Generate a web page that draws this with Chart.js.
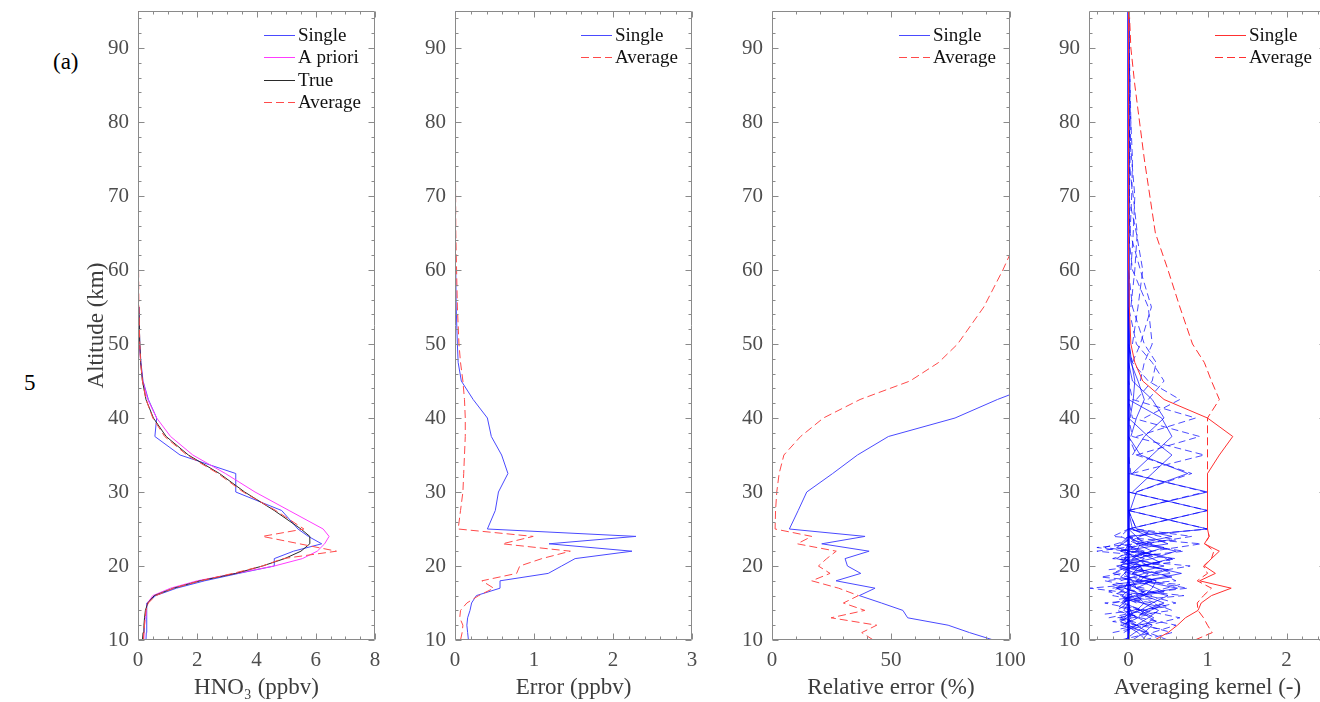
<!DOCTYPE html>
<html>
<head>
<meta charset="utf-8">
<title>HNO3 retrieval profiles</title>
<script src="https://cdn.jsdelivr.net/npm/chart.js@4.4.0/dist/chart.umd.min.js"></script>
<style>
  html, body { margin: 0; padding: 0; background: #fff; overflow: hidden; }
  body { width: 1320px; height: 702px; position: relative; font-family: 'Liberation Serif', 'Times New Roman', serif; }
  canvas { position: absolute; top: 0; }
  .note { position: absolute; font-size: 23px; color: #000; line-height: 1; }
</style>
</head>
<body>
<div class="note" style="left:53px;top:50px">(a)</div>
<div class="note" style="left:24px;top:371px">5</div>
<canvas id="p1" width="395" height="702" style="left:0px;width:395px;height:702px"></canvas>
<canvas id="p2" width="317" height="702" style="left:395px;width:317px;height:702px"></canvas>
<canvas id="p3" width="318" height="702" style="left:712px;width:318px;height:702px"></canvas>
<canvas id="p4" width="317" height="702" style="left:1029px;width:317px;height:702px"></canvas>
<script>
// retrieval altitude grid (km)
const altitude = [10, 11, 12, 13, 14, 15, 16, 17, 18, 19, 20, 21, 22, 23, 24, 25, 27.5, 30, 32.5, 35, 37.5, 40, 42.5, 45, 47.5, 50, 55, 60, 65, 70, 75, 80, 85, 90, 95];
const altTicks = [10, 20, 30, 40, 50, 60, 70, 80, 90];

// HNO3 volume mixing ratio (ppbv)
const hno3Single  = [0.27, 0.28, 0.28, 0.3, 0.3, 0.3, 0.6, 1.3, 2.25, 3.4, 4.6, 4.6, 5.25, 6.2, 5.75, 5.4, 4.85, 3.3, 3.3, 1.42, 0.57, 0.63, 0.35, 0.17, 0.1, 0.06, 0.03, 0.02, 0.015, 0.01, 0.01, 0.008, 0.006, 0.005, 0.004];
const hno3Apriori = [0.2, 0.2, 0.22, 0.24, 0.27, 0.32, 0.5, 1.1, 2.0, 3.3, 4.6, 5.55, 6.05, 6.3, 6.45, 6.25, 5.1, 3.95, 2.95, 1.85, 1.1, 0.63, 0.33, 0.16, 0.09, 0.05, 0.03, 0.02, 0.015, 0.01, 0.01, 0.008, 0.006, 0.005, 0.004];
const hno3True    = [0.15, 0.17, 0.2, 0.22, 0.25, 0.33, 0.55, 1.2, 2.1, 3.3, 4.2, 4.95, 5.5, 5.8, 5.8, 5.5, 4.6, 3.6, 2.75, 1.7, 0.95, 0.52, 0.27, 0.15, 0.09, 0.06, 0.03, 0.02, 0.015, 0.01, 0.01, 0.008, 0.006, 0.005, 0.004];
const hno3Average = [0.18, 0.2, 0.22, 0.24, 0.27, 0.35, 0.6, 1.2, 2.1, 3.2, 4.2, 4.9, 6.7, 5.45, 4.2, 5.6, 4.65, 3.55, 2.7, 1.65, 0.9, 0.5, 0.27, 0.15, 0.09, 0.06, 0.03, 0.02, 0.015, 0.01, 0.01, 0.008, 0.006, 0.005, 0.004];
const hno3Ticks = [0, 2, 4, 6, 8];

// retrieval error (ppbv)
const errSingle  = [0.17, 0.16, 0.15, 0.16, 0.19, 0.21, 0.27, 0.57, 0.57, 1.18, 1.35, 1.52, 2.24, 1.19, 2.29, 0.41, 0.51, 0.55, 0.67, 0.59, 0.46, 0.41, 0.23, 0.08, 0.04, 0.03, 0.015, 0.01, 0.005, 0.003, 0.002, 0.001, 0.001, 0.001, 0.001];
const errAverage = [0.07, 0.09, 0.1, 0.06, 0.07, 0.15, 0.3, 0.49, 0.34, 0.78, 0.82, 1.1, 1.46, 0.6, 0.99, 0.04, 0.07, 0.1, 0.11, 0.12, 0.13, 0.13, 0.12, 0.1, 0.07, 0.05, 0.03, 0.02, 0.01, 0.008, 0.005, 0.003, 0.002, 0.001, 0.001];
const errTicks = [0, 1, 2, 3];

// relative error (%), listed from 10 km upwards
const relSingle  = [93, 83, 74, 57, 55, 46, 36.7, 43.3, 26.9, 37.3, 31.7, 30.7, 40.8, 20.9, 39.1, 7.3, 11, 14.6, 25.5, 35.9, 48.9, 76.9, 94.7, 115, 135];
const relAverage = [42.6, 37.7, 44, 24.8, 39, 30, 36.3, 28, 16.7, 24.4, 19.5, 23, 27, 10.6, 16.7, 1.3, 1.5, 2, 3, 5, 12, 21.6, 37, 58, 70, 78, 89, 97, 104];
const relTicks = [0, 50, 100];

// averaging kernel row sums (measurement response)
const akSingleSum  = [0.33, 0.5, 0.62, 0.72, 0.88, 0.92, 1.05, 1.3, 0.9, 1.1, 0.96, 1.05, 1.15, 0.96, 1.02, 1.0, 1.0, 1.0, 1.0, 1.15, 1.32, 1.0, 0.45, 0.18, 0.08, 0.03, 0.01, 0.005, 0, 0, 0, 0, 0, 0, 0];
const akAverageSum = [0.84, 1.06, 1.0, 0.95, 0.88, 0.87, 0.95, 1.05, 0.87, 1.0, 0.95, 1.05, 1.08, 0.97, 1.02, 1.0, 1.0, 1.0, 1.0, 1.0, 1.0, 1.0, 1.15, 1.05, 0.96, 0.81, 0.65, 0.5, 0.34, 0.27, 0.2, 0.14, 0.08, 0.03, 0.01];
const akTicks = [0, 1, 2];

// kernel rows as [altitude, value] pairs, zero outside the listed range
const akSingleRows = [
  [[10, 0.22], [11, 0.12], [12, -0.04], [13, 0.03], [14, 0]],
  [[10, 0.18], [11, 0.25], [12, 0.1], [13, -0.05], [14, 0.02], [15, 0]],
  [[10, 0.05], [11, 0.2], [12, 0.3], [13, 0.12], [14, -0.06], [15, 0]],
  [[10, -0.05], [11, 0.08], [12, 0.22], [13, 0.32], [14, 0.15], [15, -0.05], [16, 0]],
  [[11, -0.06], [12, 0.1], [13, 0.25], [14, 0.38], [15, 0.18], [16, -0.08], [17, 0.03], [18, 0]],
  [[12, -0.08], [13, 0.12], [14, 0.2], [15, 0.45], [16, 0.2], [17, -0.05], [18, 0]],
  [[13, -0.1], [14, 0.15], [15, 0.3], [16, 0.5], [17, 0.1], [18, 0.05], [19, -0.05], [20, 0]],
  [[14, 0.1], [15, 0.2], [16, 0.1], [17, 0.62], [18, 0.15], [19, 0.25], [20, -0.1], [21, 0]],
  [[15, -0.1], [16, 0.2], [17, 0.3], [18, 0.35], [19, 0.05], [20, 0.15], [21, -0.05], [22, 0]],
  [[16, 0.05], [17, -0.15], [18, 0.2], [19, 0.67], [20, 0.25], [21, 0.1], [22, -0.05], [23, 0]],
  [[17, 0.1], [18, 0.3], [19, 0.05], [20, 0.45], [21, 0.05], [22, 0.2], [23, -0.1], [24, 0]],
  [[18, -0.1], [19, 0.2], [20, 0.15], [21, 0.55], [22, 0.1], [23, 0.15], [24, 0]],
  [[19, 0.1], [20, -0.15], [21, 0.3], [22, 0.6], [23, 0.2], [24, 0.1], [25, 0]],
  [[20, 0.05], [21, 0.2], [22, -0.1], [23, 0.5], [24, 0.25], [25, 0.05], [27.5, 0]],
  [[21, -0.05], [22, 0.3], [23, 0.1], [24, 0.55], [25, 0.1], [27.5, 0]],
  [[23, 0.1], [24, 0], [25, 1.0], [27.5, 0]],
  [[25, 0], [27.5, 1.0], [30, 0]],
  [[27.5, 0], [30, 1.0], [32.5, 0]],
  [[27.5, 0.02], [30, 0.1], [32.5, 0.75], [35, 0.15], [37.5, 0]],
  [[30, 0.05], [32.5, 0.3], [35, 0.55], [37.5, 0.25], [40, 0]],
  [[32.5, 0.05], [35, 0.3], [37.5, 0.55], [40, 0.42], [42.5, 0]],
  [[35, 0.05], [37.5, 0.2], [40, 0.45], [42.5, 0.3], [45, 0.05], [47.5, 0]],
  [[37.5, 0.03], [40, 0.1], [42.5, 0.2], [45, 0.12], [47.5, 0.03], [50, 0]],
  [[40, 0.02], [42.5, 0.06], [45, 0.08], [47.5, 0.04], [50, 0.01], [55, 0]],
  // half-kilometre rows below 25 km
  [[10.5, 0.3], [11.5, 0.1], [12.5, -0.1], [13.5, 0.05], [14.5, 0]],
  [[11.5, -0.1], [12.5, 0.35], [13.5, 0.2], [14.5, -0.12], [15.5, 0]],
  [[13.5, 0.15], [14.5, 0.4], [15.5, -0.05], [16.5, 0.2], [17.5, 0]],
  [[15.5, -0.12], [16.5, 0.45], [17.5, 0.25], [18.5, -0.1], [19.5, 0]],
  [[16.5, 0.1], [17.5, -0.2], [18.5, 0.55], [19.5, 0.15], [20.5, -0.08], [21.5, 0]],
  [[18.5, 0.2], [19.5, 0.5], [20.5, -0.1], [21.5, 0.3], [22.5, 0]],
  [[19.5, -0.1], [20.5, 0.4], [21.5, 0.2], [22.5, -0.15], [23.5, 0]],
  [[21.5, 0.15], [22.5, 0.45], [23.5, 0.05], [24.5, 0.25], [25, 0]]
];
const akAverageRows = [
  [[10, 0.5], [11, 0.25], [12, -0.1], [13, 0.1], [14, 0]],
  [[10, 0.2], [11, 0.55], [12, 0.2], [13, -0.1], [14, 0]],
  [[10, -0.1], [11, 0.3], [12, 0.6], [13, 0.15], [14, -0.15], [15, 0]],
  [[11, -0.2], [12, 0.25], [13, 0.65], [14, 0.2], [15, -0.1], [16, 0]],
  [[12, 0.1], [13, -0.15], [14, 0.55], [15, 0.3], [16, -0.2], [17, 0]],
  [[13, -0.25], [14, 0.2], [15, 0.6], [16, 0.25], [17, 0.1], [18, 0]],
  [[14, 0.15], [15, -0.3], [16, 0.7], [17, -0.2], [18, 0.35], [19, 0]],
  [[15, 0.1], [16, -0.1], [17, 0.75], [18, 0.2], [19, -0.2], [20, 0]],
  [[15, -0.2], [16, 0.3], [17, -0.49], [18, 0.6], [19, 0.4], [20, -0.1], [21, 0]],
  [[17, 0.2], [18, -0.3], [19, 0.55], [20, 0.3], [21, -0.15], [22, 0]],
  [[18, 0.1], [19, 0.2], [20, 0.78], [21, -0.2], [22, 0.1], [23, 0]],
  [[19, -0.2], [20, 0.15], [21, 0.6], [22, -0.4], [23, 0.3], [24, 0]],
  [[20, 0.2], [21, -0.15], [22, 0.7], [23, 0.1], [24, -0.1], [25, 0]],
  [[21, 0.15], [22, 0.3], [23, 0.92], [24, -0.2], [25, 0]],
  [[22, -0.1], [23, 0.2], [24, 0.8], [25, 0.1], [27.5, 0]],
  [[24, 0], [25, 1.0], [27.5, 0]],
  [[25, 0], [27.5, 1.0], [30, 0]],
  [[27.5, 0], [30, 0.97], [32.5, 0.03], [35, 0]],
  [[30, 0.1], [32.5, 0.8], [35, 0.1], [37.5, 0]],
  [[32.5, 0.04], [35, 0.96], [37.5, 0.05], [40, 0]],
  [[35, 0.1], [37.5, 0.9], [40, 0.05], [42.5, 0]],
  [[37.5, 0.1], [40, 0.85], [42.5, 0.05], [45, 0]],
  [[40, 0.2], [42.5, 0.65], [45, 0.25], [47.5, 0.05], [50, 0]],
  [[42.5, 0.25], [45, 0.45], [47.5, 0.3], [50, 0.1], [55, 0]],
  [[42.5, 0.1], [45, 0.3], [47.5, 0.35], [50, 0.2], [55, 0.05], [60, 0]],
  [[45, 0.15], [47.5, 0.2], [50, 0.3], [55, 0.25], [60, 0.05], [65, 0]],
  [[47.5, 0.05], [50, 0.15], [55, 0.29], [60, 0.15], [65, 0.02], [70, 0]],
  [[50, 0.05], [55, 0.12], [60, 0.18], [65, 0.1], [70, 0]],
  [[55, 0.03], [60, 0.08], [65, 0.11], [70, 0.06], [75, 0]],
  [[60, 0.03], [65, 0.06], [70, 0.08], [75, 0.04], [80, 0]],
  [[65, 0.02], [70, 0.04], [75, 0.05], [80, 0.03], [85, 0]],
  [[70, 0.01], [75, 0.02], [80, 0.03], [85, 0.02], [90, 0]],
  [[75, 0.01], [80, 0.015], [85, 0.02], [90, 0.01], [95, 0]],
  // half-kilometre rows below 25 km
  [[11.5, 0.4], [12.5, -0.2], [13.5, 0.3], [14.5, 0]],
  [[13.5, -0.3], [14.5, 0.5], [15.5, 0.2], [16.5, -0.25], [17.5, 0]],
  [[16.5, 0.3], [17.5, 0.65], [18.5, -0.35], [19.5, 0.2], [20.5, 0]],
  [[19.5, -0.25], [20.5, 0.55], [21.5, 0.4], [22.5, -0.3], [23.5, 0]],
  [[21.5, 0.35], [22.5, -0.4], [23.5, 0.6], [24.5, 0.2], [25, 0]]
];
// all kernel rows sit on zero over the rest of the column
const akBaselineAlt = [10, 95];
const akBaselineVal = [0, 0];

Chart.defaults.font.family = "'Liberation Serif', 'Times New Roman', serif";
Chart.defaults.color = '#4d4d4d';

const BLUE = '#4a4aff';
const PINK = '#ff3cff';
const BLACK = '#2a2a2a';
const RED = '#ff4a4a';
const DASH = [8, 4];

function profile(values, alts) {
  const a = alts || altitude;
  return values.map((v, i) => ({ x: v, y: a[i] }));
}

function line(data, color, extra) {
  return Object.assign({
    data, borderColor: color, borderWidth: 1, pointRadius: 0, tension: 0, fill: false
  }, extra || {});
}

// box with inward ticks on all four sides
const frame = {
  id: 'frame',
  afterDatasetsDraw(chart, args, opts) {
    const { ctx, chartArea: a, scales } = chart;
    const x = scales.x, y = scales.y;
    const L = Math.round(a.left) + 0.5, R = Math.round(a.right) - 0.5;
    const T = Math.round(a.top) + 0.5, B = Math.round(a.bottom) - 0.5;
    ctx.save();
    ctx.strokeStyle = '#8a8a8a';
    ctx.lineWidth = 1;
    ctx.beginPath();
    ctx.rect(L, T, R - L, B - T);
    const marks = (scale, step, majors, vertical) => {
      const i0 = Math.ceil(scale.min / step - 1e-6), i1 = Math.floor(scale.max / step + 1e-6);
      for (let i = i0; i <= i1; i++) {
        const v = i * step;
        const len = majors.some(m => Math.abs(m - v) < 1e-6) ? 6 : 3;
        const p = Math.round(scale.getPixelForValue(v)) + 0.5;
        if (vertical) {
          ctx.moveTo(p, B); ctx.lineTo(p, B - len);
          ctx.moveTo(p, T); ctx.lineTo(p, T + len);
        } else {
          ctx.moveTo(L, p); ctx.lineTo(L + len, p);
          ctx.moveTo(R, p); ctx.lineTo(R - len, p);
        }
      }
    };
    marks(x, opts.xMinor, opts.xMajor, true);
    marks(y, 2, altTicks, false);
    ctx.stroke();
    ctx.restore();
  }
};

// legend in the top right corner of the plot box
const cornerLegend = {
  id: 'cornerLegend',
  afterDraw(chart) {
    const items = chart.data.datasets.filter(d => d.label);
    const { ctx, chartArea: a } = chart;
    ctx.save();
    ctx.font = "19px 'Liberation Serif', 'Times New Roman', serif";
    const w = Math.max(...items.map(d => ctx.measureText(d.label).width));
    const tx = Math.round(a.right - 14 - w);
    items.forEach((d, i) => {
      const yy = Math.round(a.top + 24 + i * 22.3);
      ctx.fillStyle = d.borderColor;
      const x0 = tx - 34, x1 = tx - 3;
      if (d.borderDash && d.borderDash.length) {
        for (let s = x0; s < x1; s += d.borderDash[0] + d.borderDash[1]) {
          ctx.fillRect(s, yy, Math.min(d.borderDash[0], x1 - s), 1);
        }
      } else {
        ctx.fillRect(x0, yy, x1 - x0, 1);
      }
      ctx.fillStyle = '#111';
      ctx.textBaseline = 'middle';
      ctx.fillText(d.label, tx, yy + 1);
    });
    ctx.restore();
  }
};

function makePanel(id, o) {
  new Chart(document.getElementById(id), {
    type: 'line',
    data: { datasets: o.datasets },
    options: {
      responsive: false,
      animation: false,
      devicePixelRatio: 1,
      events: [],
      layout: { padding: { left: 0, right: 20, top: 11, bottom: 0 } },
      plugins: {
        legend: { display: false },
        tooltip: { enabled: false },
        frame: { xMinor: o.xMinor, xMajor: o.xTicks }
      },
      scales: {
        x: {
          type: 'linear', min: o.xMin, max: o.xMax,
          grid: { display: false, drawTicks: false },
          border: { display: false },
          ticks: { font: { size: 21 }, padding: 8, maxRotation: 0, autoSkip: false },
          afterBuildTicks: s => { s.ticks = o.xTicks.map(v => ({ value: v })); },
          afterFit: s => { s.height = 62; s.paddingLeft = 0; s.paddingRight = 0; },
          title: { display: true, text: o.xTitle, color: '#3d3d3d', font: { size: 23 }, padding: { top: 0, bottom: 0 } }
        },
        y: {
          type: 'linear', min: 10, max: 95,
          grid: { display: false, drawTicks: false },
          border: { display: false },
          ticks: { font: { size: 21 }, padding: 9, autoSkip: false },
          afterBuildTicks: s => { s.ticks = altTicks.map(v => ({ value: v })); },
          afterFit: s => { s.width = o.yWidth; s.paddingTop = 0; s.paddingBottom = 0; },
          title: o.yTitle
            ? { display: true, text: o.yTitle, color: '#3d3d3d', font: { size: 23 }, padding: { top: 83, bottom: 0 } }
            : { display: false }
        }
      }
    },
    plugins: [frame, cornerLegend]
  });
}

makePanel('p1', {
  xMin: 0, xMax: 8, xTicks: hno3Ticks, xMinor: 0.5, yWidth: 138,
  xTitle: 'HNO\u2083 (ppbv)', yTitle: 'Altitude (km)',
  datasets: [
    line(profile(hno3Single), BLUE, { label: 'Single', order: 4 }),
    line(profile(hno3Apriori), PINK, { label: 'A priori', order: 3 }),
    line(profile(hno3True), BLACK, { label: 'True', order: 2 }),
    line(profile(hno3Average), RED, { label: 'Average', borderDash: DASH, order: 1 })
  ]
});

makePanel('p2', {
  xMin: 0, xMax: 3, xTicks: errTicks, xMinor: 0.2, yWidth: 60,
  xTitle: 'Error (ppbv)',
  datasets: [
    line(profile(errSingle), BLUE, { label: 'Single', order: 2 }),
    line(profile(errAverage), RED, { label: 'Average', borderDash: DASH, order: 1 })
  ]
});

makePanel('p3', {
  xMin: 0, xMax: 100, xTicks: relTicks, xMinor: 10, yWidth: 60,
  xTitle: 'Relative error (%)',
  datasets: [
    line(profile(relSingle), BLUE, { label: 'Single', order: 2 }),
    line(profile(relAverage), RED, { label: 'Average', borderDash: DASH, order: 1 })
  ]
});

const KBLUE = 'rgba(0, 0, 255, 0.7)';
const KRED = '#ff3030';
const pairs = rows => rows.map(r => r.map(([a, v]) => ({ x: v, y: a })));

makePanel('p4', {
  xMin: -0.5, xMax: 2.5, xTicks: akTicks, xMinor: 0.2, yWidth: 60,
  xTitle: 'Averaging kernel (-)',
  datasets: [
    line(profile(akSingleSum), KRED, { label: 'Single', order: 1 }),
    line(profile(akAverageSum), KRED, { label: 'Average', borderDash: DASH, order: 1 }),
    line(profile(akBaselineVal, akBaselineAlt), 'rgba(0, 0, 255, 0.95)', { borderWidth: 2.5, order: 2 }),
    ...pairs(akSingleRows).map(d => line(d, KBLUE, { order: 3 })),
    ...pairs(akAverageRows).map(d => line(d, KBLUE, { borderDash: [7, 4], order: 3 }))
  ]
});
</script>
</body>
</html>
